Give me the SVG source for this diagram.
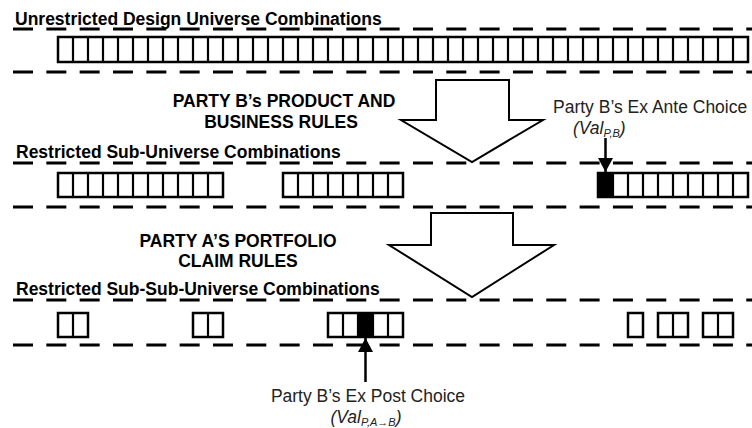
<svg xmlns="http://www.w3.org/2000/svg" width="752" height="428" viewBox="0 0 752 428">
<style>
.bg{fill:#fff}
.dash{stroke:#000;stroke-width:3;stroke-dasharray:20 13.33;fill:none}
.box{fill:#fff;stroke:#000;stroke-width:2.5}
.div{stroke:#000;stroke-width:2.2;fill:none}
.blk{fill:#000;stroke:#000;stroke-width:2}
.big{fill:#fff;stroke:#000;stroke-width:2;stroke-linejoin:miter}
.t{font-family:"Liberation Sans",Arial,sans-serif;font-size:17.5px;fill:#000}
.b{font-weight:bold}
.r{fill:#222}
.i{font-style:italic;fill:#222}
.sub{font-size:11px}
.ptr{stroke:#000;stroke-width:2.5;fill:none}
</style>
<defs>
<marker id="ah" viewBox="0 0 14 15" refX="14" refY="7.5" markerWidth="14" markerHeight="15" markerUnits="userSpaceOnUse" orient="auto">
<path d="M0 0L14 7.5L0 15Z" fill="#000"/>
</marker>
</defs>
<rect class="bg" x="0" y="0" width="752" height="428"/>

<g id="guides">
<path class="dash" d="M13 29H752M13 72H752M13 163H752M13 207H752M13 300H752M13 345H752"/>
</g>

<g id="labels">
<text class="t b" x="15" y="25">Unrestricted Design Universe Combinations</text>
<text class="t b" x="16" y="158">Restricted Sub-Universe Combinations</text>
<text class="t b" x="16" y="295">Restricted Sub-Sub-Universe Combinations</text>
</g>

<g id="row1">
<rect class="box" x="58" y="37" width="690" height="25"/>
<path class="div" d="M73 37V62M88 37V62M103 37V62M118 37V62M133 37V62M148 37V62M163 37V62M178 37V62M193 37V62M208 37V62M223 37V62M238 37V62M253 37V62M268 37V62M283 37V62M298 37V62M313 37V62M328 37V62M343 37V62M358 37V62M373 37V62M388 37V62M403 37V62M418 37V62M433 37V62M448 37V62M463 37V62M478 37V62M493 37V62M508 37V62M523 37V62M538 37V62M553 37V62M568 37V62M583 37V62M598 37V62M613 37V62M628 37V62M643 37V62M658 37V62M673 37V62M688 37V62M703 37V62M718 37V62M733 37V62"/>
</g>

<g id="arrow1">
<polygon class="big" points="436,80 509,80 509,120 543,120 472,162 401,120 436,120"/>
<text class="t b" x="284" y="107" text-anchor="middle">PARTY B’s PRODUCT AND</text>
<text class="t b" x="281" y="128" text-anchor="middle">BUSINESS RULES</text>
</g>

<g id="row2a">
<rect class="box" x="58" y="173" width="165" height="24"/>
<path class="div" d="M73 173V197M88 173V197M103 173V197M118 173V197M133 173V197M148 173V197M163 173V197M178 173V197M193 173V197M208 173V197"/>
</g>
<g id="row2b">
<rect class="box" x="283" y="173" width="120" height="24"/>
<path class="div" d="M298 173V197M313 173V197M328 173V197M343 173V197M358 173V197M373 173V197M388 173V197"/>
</g>
<g id="row2c">
<rect class="box" x="598" y="173" width="150" height="24"/>
<rect class="blk" x="598" y="173" width="15" height="24"/>
<path class="div" d="M613 173V197M628 173V197M643 173V197M658 173V197M673 173V197M688 173V197M703 173V197M718 173V197M733 173V197"/>
</g>

<g id="exante">
<text class="t r" x="553" y="113">Party B’s Ex Ante Choice</text>
<text class="t i" x="573" y="134">(Val<tspan class="sub" dy="3">P,B</tspan><tspan dy="-3">)</tspan></text>
</g>

<g id="arrow2">
<polygon class="big" points="431,213 513,213 513,245 554,245 472,297 389,245 431,245"/>
<text class="t b" x="238" y="247" text-anchor="middle">PARTY A’S PORTFOLIO</text>
<text class="t b" x="238" y="267" text-anchor="middle">CLAIM RULES</text>
</g>

<g id="row3a">
<rect class="box" x="58" y="313" width="30" height="24"/>
<path class="div" d="M73 313V337"/>
</g>
<g id="row3b">
<rect class="box" x="193" y="313" width="30" height="24"/>
<path class="div" d="M208 313V337"/>
</g>
<g id="row3c">
<rect class="box" x="328" y="313" width="75" height="24"/>
<rect class="blk" x="358" y="313" width="15" height="24"/>
<path class="div" d="M343 313V337M358 313V337M373 313V337M388 313V337"/>
</g>
<g id="row3d">
<rect class="box" x="628" y="313" width="15" height="24"/>
</g>
<g id="row3e">
<rect class="box" x="658" y="313" width="30" height="24"/>
<path class="div" d="M673 313V337"/>
</g>
<g id="row3f">
<rect class="box" x="703" y="313" width="30" height="24"/>
<path class="div" d="M718 313V337"/>
</g>

<g id="expost">
<text class="t r" x="368" y="402" text-anchor="middle">Party B’s Ex Post Choice</text>
<text class="t i" x="366" y="423" text-anchor="middle">(Val<tspan class="sub" dy="3">P,A→B</tspan><tspan dy="-3">)</tspan></text>
</g>

<g id="connectors">
<path class="ptr" d="M605.5 138V172" marker-end="url(#ah)"/>
<path class="ptr" d="M365.5 382V338" marker-end="url(#ah)"/>
</g>
</svg>
